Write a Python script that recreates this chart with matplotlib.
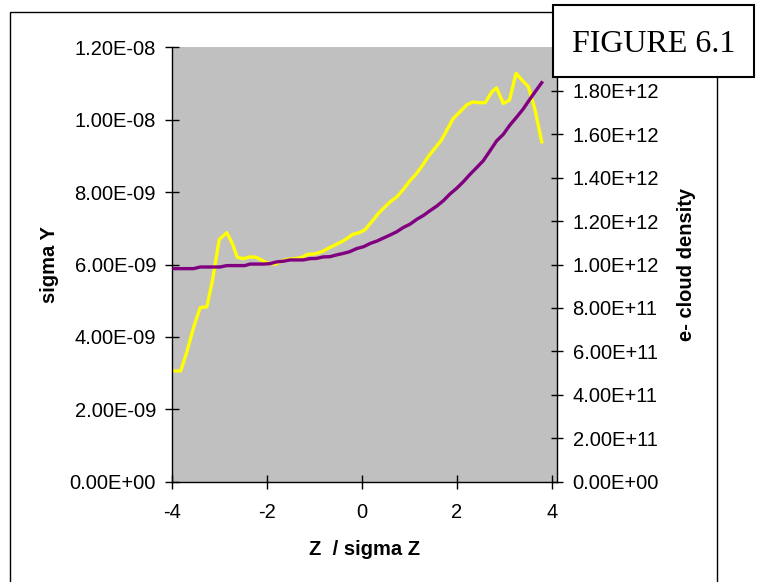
import matplotlib
matplotlib.use("Agg")
import matplotlib.pyplot as plt
from matplotlib.patches import Rectangle

plt.rcParams["font.family"] = ["Liberation Sans", "DejaVu Sans"]

# sigma Y (left axis) vs Z / sigma Z
z_sig = [-3.95, -3.81, -3.68, -3.54, -3.40, -3.26, -3.14, -3.00, -2.84, -2.72,
         -2.62, -2.49, -2.36, -2.22, -2.11, -1.96, -1.82, -1.68, -1.54, -1.40,
         -1.26, -1.14, -1.00, -0.86, -0.70, -0.56, -0.42, -0.32, -0.19, -0.05,
         0.07, 0.21, 0.35, 0.48, 0.60, 0.74, 0.88, 1.00, 1.14, 1.26,
         1.40, 1.54, 1.68, 1.80, 1.93, 2.07, 2.21, 2.34, 2.47, 2.60,
         2.74, 2.84, 2.98, 3.11, 3.25, 3.37, 3.51, 3.65, 3.79]
sigma_y = [3.06, 3.06, 3.59, 4.26, 4.81, 4.83, 5.57, 6.69, 6.88, 6.57,
           6.20, 6.16, 6.21, 6.20, 6.12, 6.03, 6.01, 6.10, 6.15, 6.16,
           6.20, 6.28, 6.29, 6.34, 6.45, 6.54, 6.63, 6.71, 6.83, 6.88,
           6.96, 7.18, 7.41, 7.58, 7.73, 7.87, 8.08, 8.29, 8.49, 8.70,
           8.98, 9.21, 9.44, 9.73, 10.04, 10.22, 10.41, 10.49, 10.47, 10.47,
           10.77, 10.88, 10.45, 10.54, 11.28, 11.10, 10.91, 10.27, 9.39]  # x1e-9

# e- cloud density (right axis)
z_den = [-3.95, -3.81, -3.68, -3.54, -3.40, -3.26, -3.12, -2.98, -2.84, -2.70,
         -2.56, -2.46, -2.35, -2.21, -2.07, -1.93, -1.79, -1.65, -1.51, -1.37,
         -1.23, -1.09, -0.95, -0.81, -0.67, -0.53, -0.39, -0.25, -0.11, 0.04,
         0.18, 0.32, 0.46, 0.60, 0.74, 0.88, 1.02, 1.16, 1.30, 1.44,
         1.58, 1.72, 1.86, 2.00, 2.14, 2.28, 2.42, 2.56, 2.70, 2.84,
         2.98, 3.12, 3.26, 3.40, 3.54, 3.68, 3.79]
density = [9.81, 9.81, 9.81, 9.81, 9.885, 9.885, 9.885, 9.885, 9.95, 9.95,
           9.95, 9.95, 10.02, 10.02, 10.02, 10.04, 10.12, 10.15, 10.21, 10.21,
           10.21, 10.27, 10.28, 10.35, 10.36, 10.44, 10.51, 10.59, 10.73, 10.82,
           10.97, 11.08, 11.22, 11.36, 11.51, 11.71, 11.86, 12.08, 12.26, 12.48,
           12.69, 12.94, 13.25, 13.51, 13.81, 14.15, 14.46, 14.78, 15.23, 15.69,
           15.99, 16.42, 16.78, 17.16, 17.61, 18.04, 18.37]  # x1e11

left_ticks = [0, 2e-9, 4e-9, 6e-9, 8e-9, 1e-8, 1.2e-8]
right_ticks = [0, 2e11, 4e11, 6e11, 8e11, 1e12, 1.2e12, 1.4e12, 1.6e12, 1.8e12]
x_ticks = [-4, -2, 0, 2, 4]

W, H = 759, 582
fig = plt.figure(figsize=(W / 100, H / 100), dpi=100)

# outer chart border (bottom edge falls off the picture)
fig.patches.append(Rectangle((10 / W, 1 - 590 / H), 707 / W, 578 / H,
                             transform=fig.transFigure, fill=False,
                             edgecolor="black", linewidth=1.0))

# plot area runs a little past x = 4, as in the original
ax = fig.add_axes([171.7 / W, 1 - 481.7 / H, 385.6 / W, 434.4 / H])
ax.set_facecolor("#C0C0C0")
ax2 = ax.twinx()
ax2.patch.set_visible(False)

ax.plot(z_sig, [v * 1e-9 for v in sigma_y], color="#FFFF00", lw=2.4)
ax2.plot(z_den, [v * 1e11 for v in density], color="#800080", lw=2.4)

ax.set_xlim(-4, 4 + 5.6 / 47.5)
ax.set_ylim(0, 1.2e-8)
ax2.set_ylim(0, 2e12)
ax.set_xticks(x_ticks)
ax.set_xticklabels([str(t) for t in x_ticks])
ax.set_yticks(left_ticks)
ax.set_yticklabels([f"{t:.2E}" for t in left_ticks])
ax2.set_yticks(right_ticks)
ax2.set_yticklabels([f"{t:.2E}" for t in right_ticks])

for a in (ax, ax2):
    a.spines["top"].set_visible(False)
    for s in a.spines.values():
        s.set_linewidth(1.0)
ax.spines["right"].set_visible(False)
ax2.spines["left"].set_visible(False)
ax2.spines["bottom"].set_visible(False)

ax.tick_params(axis="both", direction="inout", length=9.5, width=1.0,
               labelsize=14.5)
ax.tick_params(axis="y", pad=6.5)
ax.tick_params(axis="x", pad=10.5)
ax2.tick_params(axis="y", direction="inout", length=9.0, width=1.0,
                labelsize=14.5, pad=6.5)

ax.set_xlabel("Z  / sigma Z", fontsize=14.5, fontweight="bold", labelpad=13)
ax.set_ylabel("sigma Y", fontsize=14.5, fontweight="bold", labelpad=8)
ax2.set_ylabel("e- cloud density", fontsize=14.5, fontweight="bold", labelpad=13)

# figure label box
fig.patches.append(Rectangle((553 / W, 1 - 77 / H), 201 / W, 72 / H,
                             transform=fig.transFigure, facecolor="white",
                             edgecolor="black", linewidth=1.5, zorder=10))
fig.text(653.5 / W, 1 - 44 / H, "FIGURE 6.1", ha="center", va="center",
         fontsize=23, family="Liberation Serif", zorder=11)

fig.savefig("out.png", dpi=100)
